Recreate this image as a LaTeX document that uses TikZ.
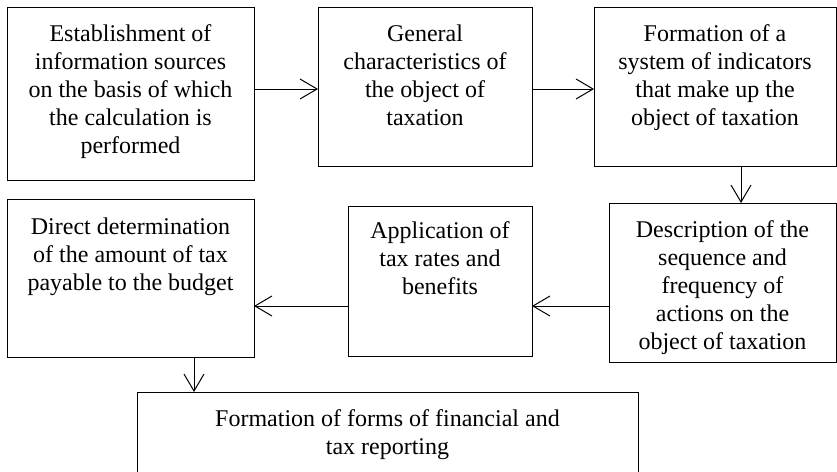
\documentclass[tikz,border=0pt]{standalone}
\usepackage{fontspec}
\setmainfont{Liberation Serif}
\usetikzlibrary{arrows.meta}
\tikzset{
  box/.style={draw=black, line width=1pt, inner sep=0pt, outer sep=0pt, fill=none},
  txt/.style={inner sep=0pt, outer sep=0pt, anchor=base},
  arr/.style={draw=black, line width=1pt, -{Straight Barb[length=17pt,width=20pt,line width=1pt]}}
}
\newcommand\boxtext[2]{\parbox[t]{#1pt}{\centering\fontsize{24}{28}\selectfont #2}}
\begin{document}
\begin{tikzpicture}[x=1pt,y=-1pt]
\useasboundingbox (0,0) rectangle (837,471);
\clip (0,0) rectangle (837,471);
% boxes
\node[box, minimum width=247pt, minimum height=173pt] (b1) at (130.5,93.5) {};
\node[box, minimum width=214pt, minimum height=159pt] (b2) at (425,86.5) {};
\node[box, minimum width=242pt, minimum height=159pt] (b3) at (715,86.5) {};
\node[box, minimum width=227pt, minimum height=159pt] (b4) at (722.5,282.5) {};
\node[box, minimum width=184pt, minimum height=150pt] (b5) at (440,281) {};
\node[box, minimum width=247pt, minimum height=158pt] (b6) at (130.5,278) {};
\node[box, minimum width=501pt, minimum height=98pt] (b7) at (387.5,441) {};
% texts
\node[txt] (t1) at (130.5,41) {\boxtext{240}{Establishment of\\information sources\\on the basis of which\\the calculation is\\performed}};
\node[txt] (t2) at (425,41) {\boxtext{210}{General\\characteristics of\\the object of\\taxation}};
\node[txt] (t3) at (715,41) {\boxtext{240}{Formation of a\\system of indicators\\that make up the\\object of taxation}};
\node[txt] (t4) at (722.5,237) {\boxtext{225}{Description of the\\sequence and\\frequency of\\actions on the\\object of taxation}};
\node[txt] (t5) at (440,238) {\boxtext{180}{Application of\\tax rates and\\benefits}};
\node[txt] (t6) at (130.5,234) {\boxtext{245}{Direct determination\\of the amount of tax\\payable to the budget}};
\node[txt] (t7) at (387.5,426) {\boxtext{495}{Formation of forms of financial and\\tax reporting}};
% connectors
\draw[arr] (b1.east |- 0,89) -- (b2.west |- 0,89);
\draw[arr] (b2.east |- 0,89) -- (b3.west |- 0,89);
\draw[arr] (b3.south -| 741,0) -- (b4.north -| 741,0);
\draw[arr] (b4.west |- 0,306) -- (b5.east |- 0,306);
\draw[arr] (b5.west |- 0,306) -- (b6.east |- 0,306);
\draw[arr] (b6.south -| 194,0) -- (b7.north -| 194,0);
\end{tikzpicture}
\end{document}
